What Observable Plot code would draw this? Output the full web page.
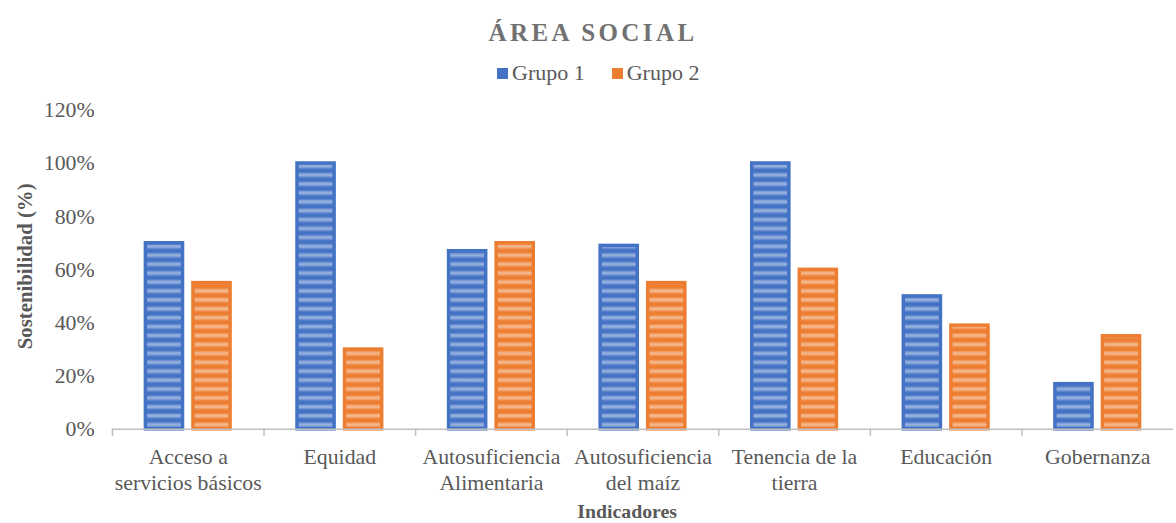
<!DOCTYPE html>
<html>
<head>
<meta charset="utf-8">
<script src="https://cdn.jsdelivr.net/npm/d3@7"></script>
<script src="https://cdn.jsdelivr.net/npm/@observablehq/plot@0.6"></script>
<style>
  html, body { margin: 0; padding: 0; background: #fff; overflow: hidden; width: 1176px; height: 523px; }
  body, #title, #legend { font-family: "Liberation Serif", "Times New Roman", serif; }
  #head { position: relative; width: 1176px; height: 90px; }
  #title { position: absolute; left: 593px; top: 16px; transform: translateX(-50%); white-space: nowrap;
           font-weight: bold; font-size: 25px; letter-spacing: 3.4px; color: #717171; line-height: 34px; }
  #legend { position: absolute; left: 497px; top: 61px; display: flex; align-items: center;
            font-size: 22px; line-height: 24px; color: #595959; white-space: nowrap; }
  .sw { width: 11px; height: 11px; display: inline-block; margin-right: 4px; }
  .item { display: flex; align-items: center; margin-right: 27px; }
  #chart { width: 1176px; height: 433px; }
</style>
</head>
<body>
<div id="head">
  <div id="title">ÁREA SOCIAL</div>
  <div id="legend"></div>
</div>
<div id="chart"></div>
<script>
// ---- data ----
const categories = ["Acceso a servicios básicos", "Equidad", "Autosuficiencia Alimentaria",
  "Autosuficiencia del maíz", "Tenencia de la tierra", "Educación", "Gobernanza"];
const tickLabels = ["Acceso a\nservicios básicos", "Equidad", "Autosuficiencia\nAlimentaria",
  "Autosuficiencia\ndel maíz", "Tenencia de la\ntierra", "Educación", "Gobernanza"];
const groups = ["Grupo 1", "Grupo 2"];
const grupo1 = [0.70, 1.00, 0.67, 0.69, 1.00, 0.50, 0.17];
const grupo2 = [0.55, 0.30, 0.70, 0.55, 0.60, 0.39, 0.35];
const yTicks = [0, 0.2, 0.4, 0.6, 0.8, 1.0, 1.2];

const baseColors = {"Grupo 1": "#4472C4", "Grupo 2": "#ED7D31"};
const lightColors = {"Grupo 1": "#93AFDE", "Grupo 2": "#F5B68A"};
const patternIds = {"Grupo 1": "stripeG1", "Grupo 2": "stripeG2"};

const table = [];
categories.forEach((c, i) => {
  table.push({category: c, group: groups[0], value: grupo1[i]});
  table.push({category: c, group: groups[1], value: grupo2[i]});
});
const labelOf = new Map(categories.map((c, i) => [c, tickLabels[i]]));

// legend
const legend = document.getElementById("legend");
groups.forEach(g => {
  const it = document.createElement("div");
  it.className = "item";
  const sw = document.createElement("span");
  sw.className = "sw";
  sw.style.background = baseColors[g];
  it.appendChild(sw);
  it.appendChild(document.createTextNode(g));
  legend.appendChild(it);
});

const axisColor = "#bfbfbf";

const chart = Plot.plot({
  width: 1187,
  height: 433,
  marginLeft: 110,
  marginRight: 0,
  marginTop: 20,
  marginBottom: 91,
  style: {fontFamily: "Liberation Serif, Times New Roman, serif", fontSize: "22px", color: "#595959", background: "white", overflow: "visible"},
  fx: {domain: categories, padding: 0, label: null},
  x: {domain: groups, paddingInner: 0.15, paddingOuter: 0.66, axis: null},
  y: {domain: [0, 1.2], label: null},
  color: {type: "identity"},
  marks: [
    Plot.axisY({ticks: yTicks, tickSize: 0, tickPadding: 18, tickFormat: d3.format(".0%"), label: null, fontSize: 22}),
    Plot.axisFx({anchor: "bottom", tickSize: 0, tickPadding: 17, label: null, fontSize: 22, lineHeight: 1.18,
                 tickFormat: d => labelOf.get(d)}),
    Plot.barY(table, {
      fx: "category", x: "group", y: "value",
      fill: d => `url(#${patternIds[d.group]})`,
      stroke: d => baseColors[d.group],
      strokeWidth: 3.5, insetLeft: 1.75, insetRight: 1.75
    }),
    Plot.ruleY([0], {stroke: axisColor, strokeWidth: 1.5}),
    Plot.frame({anchor: "left", stroke: axisColor, strokeWidth: 1.5, insetTop: 322, insetBottom: -6})
  ]
});

// stripe patterns
const svg = d3.select(chart);
const defs = svg.insert("defs", ":first-child");
groups.forEach(g => {
  const gid = patternIds[g] + "grad";
  const grad = defs.append("linearGradient").attr("id", gid).attr("x1", 0).attr("y1", 0).attr("x2", 0).attr("y2", 1);
  [[0, baseColors[g]], [0.2, baseColors[g]], [0.45, lightColors[g]], [0.6, lightColors[g]], [0.9, baseColors[g]], [1, baseColors[g]]]
    .forEach(([o, c]) => grad.append("stop").attr("offset", o).attr("stop-color", c));
  const p = defs.append("pattern").attr("id", patternIds[g]).attr("patternUnits", "userSpaceOnUse")
    .attr("width", 12).attr("height", 9);
  p.append("rect").attr("width", 12).attr("height", 9).attr("fill", `url(#${gid})`);
});

// axis titles
svg.append("text")
  .attr("transform", "translate(25,178) rotate(-90)")
  .attr("text-anchor", "middle").attr("dominant-baseline", "central")
  .attr("font-weight", "bold").attr("font-size", 21).attr("fill", "#595959")
  .text("Sostenibilidad (%)");
svg.append("text")
  .attr("x", 633).attr("y", 432)
  .attr("text-anchor", "middle")
  .attr("font-weight", "bold").attr("font-size", 20).attr("fill", "#595959")
  .text("Indicadores");

document.getElementById("chart").appendChild(chart);
</script>
</body>
</html>
